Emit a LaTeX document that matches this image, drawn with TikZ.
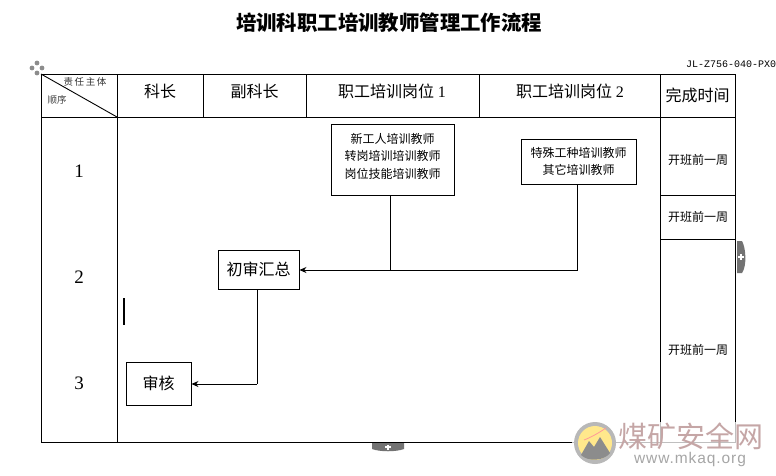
\documentclass[tikz,border=0pt]{standalone}
\usepackage{fontspec}
\setmainfont{Liberation Serif}
\newfontfamily\cjk{Noto Sans CJK SC}
\newfontfamily\mono{Liberation Mono}
\newfontfamily\web[LetterSpace=6]{Liberation Sans}
\usetikzlibrary{arrows.meta}
\tikzset{
  x=1pt,y=-1pt,
  grid/.style={draw=black,line width=1pt},
  flowbox/.style={draw=black,line width=0.9pt,inner sep=0pt,align=center,font=\cjk\fontsize{12}{17.5}\selectfont},
  flowline/.style={draw=black,line width=0.9pt},
  flowarrow/.style={flowline,-{Stealth[length=7pt,width=6pt]}},
  head/.style={font=\cjk\fontsize{16}{18}\selectfont,inner sep=0pt},
  small/.style={font=\cjk\fontsize{12}{14}\selectfont,inner sep=0pt},
  order/.style={font=\fontsize{19}{20}\selectfont,inner sep=0pt},
  tiny/.style={font=\cjk\fontsize{9.5}{11}\selectfont,inner sep=0pt,text=black!75},
  tab/.style={fill=black!55,draw=none}
}
\begin{document}
\begin{tikzpicture}
\useasboundingbox (0,0) rectangle (776,475);
\fill[white] (0,0) rectangle (776,475);
\node[font=\cjk\bfseries\fontsize{20.4}{22}\selectfont,inner sep=0pt] (title) at (389,23) {培训科职工培训教师管理工作流程};
\node[font=\mono\fontsize{10}{12}\selectfont,anchor=west,inner sep=0pt] (code) at (686,64) {JL-Z756-040-PX0};
% table
\draw[grid] (41,74) rectangle (735,442);
\draw[grid] (41,117) -- (735,117);
\draw[grid] (117,74) -- (117,442);
\draw[grid] (203,74) -- (203,117);
\draw[grid] (306,74) -- (306,117);
\draw[grid] (479,74) -- (479,117);
\draw[grid] (660,74) -- (660,442);
\draw[grid] (660,195) -- (735,195);
\draw[grid] (660,239) -- (735,239);
\draw[line width=0.9pt] (41,74) -- (117,117);
% header
\node[tiny,text=black!80] (h0a) at (85,82) {责\,任\,主\,体};
\node[tiny] (h0b) at (57,100) {顺序};
\node[head] (h1) at (160,91) {科长};
\node[head] (h2) at (254.500,91) {副科长};
\node[head] (h3) at (392,91) {职工培训岗位 {\fontspec{Liberation Serif}1}};
\node[head] (h4) at (570,91) {职工培训岗位 {\fontspec{Liberation Serif}2}};
\node[head] (h5) at (697.500,95) {完成时间};
\node[order] (r1) at (79,171) {1};
\node[order] (r2) at (79,277) {2};
\node[order] (r3) at (79,383) {3};
\node[small] (t1) at (698,160) {开班前一周};
\node[small] (t2) at (698,217) {开班前一周};
\node[small] (t3) at (698,350) {开班前一周};
% boxes
\node[flowbox,minimum width=123pt,minimum height=71pt] (b1) at (392.500,159.500) {\raisebox{0.5pt}[0pt][0pt]{\parbox{110pt}{\centering 新工人培训教师\\转岗培训培训教师\\岗位技能培训教师}}};
\node[flowbox,minimum width=115pt,minimum height=45pt] (b2) at (578.500,161.500) {特殊工种培训教师\\其它培训教师};
\node[flowbox,minimum width=81pt,minimum height=39pt,font=\cjk\fontsize{16}{18}\selectfont] (b3) at (258.500,269.500) {初审汇总};
\node[flowbox,minimum width=65pt,minimum height=43pt,font=\cjk\fontsize{16}{18}\selectfont] (b4) at (158.500,383.500) {审核};
% connectors
\coordinate (j1) at (390,270);
\coordinate (j2) at (577,270);
\coordinate (j3) at (257,384);
\draw[flowline] (b1.south -| j1) -- (j1);
\draw[flowline] (b2.south -| j2) -- (j2) -- (j1);
\draw[flowarrow] (j1) -- (b3.east |- j1);
\draw[flowline] (b3.south -| j3) -- (j3);
\draw[flowarrow] (j3) -- (b4.east |- j3);
% text cursor
\draw[line width=1.8pt] (124,298) -- (124,325);
% editor handles
\foreach \dx/\dy in {0/-5,0/5,-5/0,5/0}{\fill[black!45] (37+\dx,68+\dy) circle (2.4pt);}
\fill[tab] (737,241) -- (742,241) .. controls (746,248) and (747,266) .. (742,273) -- (737,273) -- cycle;
\draw[white,line width=1.2pt] (738,257) -- (744,257) (741,254) -- (741,260);
\fill[tab] (372,443) -- (404,443) -- (404,449) .. controls (396,452) and (380,452) .. (372,449) -- cycle;
\draw[white,line width=1.2pt] (385,447) -- (391,447) (388,444.500) -- (388,449.500);
% watermark
\fill[white,opacity=.75] (572,422) rectangle (776,475);
\fill[black!28] (595,443) circle (21);
\fill[orange!40!yellow!45] (595,443) circle (17);
\draw[red!40,line width=.8pt] (584,440) .. controls (592,437) and (600,432) .. (606,428);
\fill[black!45] (581,455) -- (589,441) -- (594,447) -- (600,437) -- (610,453) .. controls (604,461) and (588,462) .. (581,455) -- cycle;
\node[font=\cjk\fontsize{29}{30}\selectfont,text=red!35!black!35,inner sep=0pt] (wm) at (690.500,436) {煤矿安全网};
\node[font=\web\fontsize{15.5}{16}\selectfont,text=black!35,inner sep=0pt] (url) at (690,459.500) {www.mkaq.org};
\end{tikzpicture}
\end{document}
